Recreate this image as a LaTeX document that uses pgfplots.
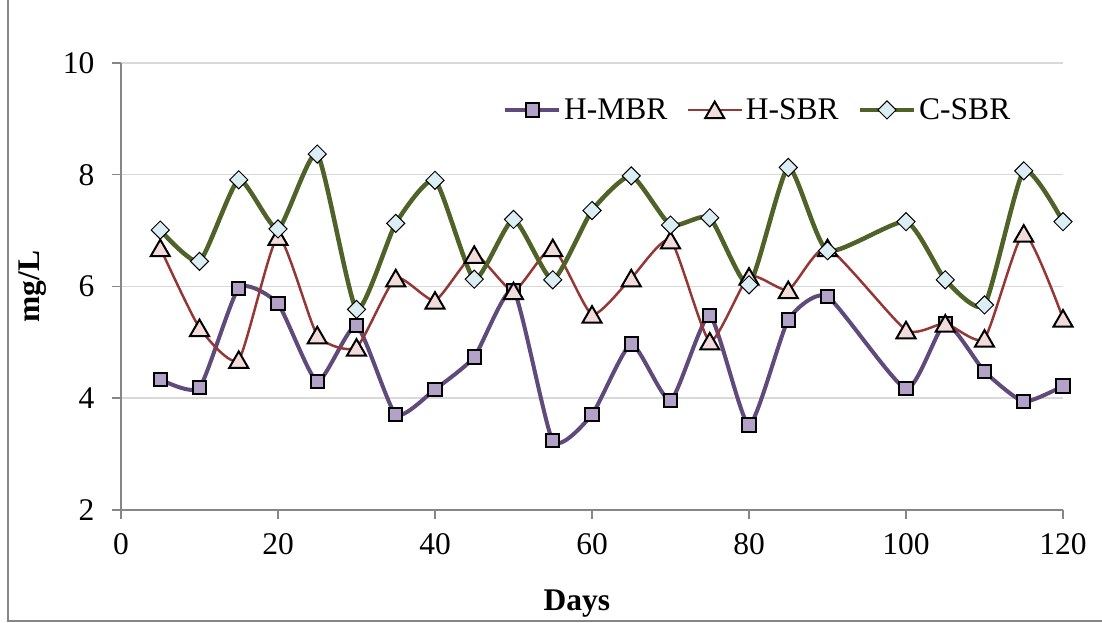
\documentclass[border=0pt]{standalone}
\usepackage{pgfplots}
\pgfplotsset{compat=1.18}
\usepackage{fontspec}
\setmainfont{Liberation Serif}
\definecolor{mbrline}{HTML}{604A7B}
\definecolor{mbrfill}{HTML}{B3A2C7}
\definecolor{sbrline}{HTML}{953735}
\definecolor{sbrfill}{HTML}{F2DCDB}
\definecolor{csbrline}{HTML}{4F6228}
\definecolor{csbrfill}{HTML}{DBEEF4}
\definecolor{axgray}{HTML}{868686}
\definecolor{gridgray}{HTML}{D9D9D9}
\newcommand{\bigfont}{\fontsize{31.5pt}{36pt}\selectfont}
\begin{document}
\begin{tikzpicture}[x=1pt,y=1pt]
\useasboundingbox (0,0) rectangle (1102,623);
\draw[axgray, line width=1.5pt] (8,2) rectangle (1115,640);
\begin{axis}[
  at={(121pt,113pt)}, anchor=south west,
  scale only axis, width=942pt, height=447pt,
  xmin=0, xmax=120, ymin=2, ymax=10,
  xtick={0,20,...,120}, ytick={2,4,...,10},
  axis x line*=bottom, axis y line*=left,
  axis line style={axgray, line width=1.5pt},
  tick style={axgray, line width=1.5pt},
  major tick length=9pt, tick align=outside,
  ymajorgrids, grid style={gridgray, line width=1.5pt},
  ticklabel style={font=\bigfont},
  xticklabel style={yshift=-11pt},
  yticklabel style={xshift=-14pt},
  /pgf/number format/assume math mode=true,
  xlabel={\textbf{Days}}, ylabel={\textbf{mg/L}},
  x label style={at={(axis description cs:0.484,0)}, anchor=base, yshift=-100pt, font=\bigfont},
  y label style={at={(axis description cs:-0.0934,0.5)}, anchor=center, font=\bigfont},
  legend columns=3,
  legend image code/.code={\draw[mark repeat=2,mark phase=2] plot coordinates {(0pt,0pt) (27pt,0pt) (54pt,0pt)};},
  legend style={at={(axis description cs:0.4055,0.895)}, anchor=west, draw=none, fill=none,
    inner sep=0pt, font=\bigfont, nodes={inner sep=3pt},
    /tikz/every even column/.append style={column sep=16pt}},
  legend cell align=left,
]
\addplot[mbrline, line width=4pt, smooth, tension=0.33, mark=square*, mark size=6.6pt,
  mark options={fill=mbrfill, draw=black, line width=2pt, solid}] coordinates {
(5,4.34) (10,4.19) (15,5.97) (20,5.69) (25,4.30) (30,5.30) (35,3.71) (40,4.16) (45,4.74)
(50,5.93) (55,3.24) (60,3.71) (65,4.97) (70,3.96) (75,5.48) (80,3.52) (85,5.40) (90,5.82)
(100,4.17) (105,5.34) (110,4.48) (115,3.94) (120,4.22)};
\addlegendentry{H-MBR}
\addplot[sbrline, line width=2.5pt, smooth, tension=0.33, mark=triangle*, mark size=11pt,
  mark options={fill=sbrfill, draw=black, line width=2pt, solid, yshift=-2.7pt}] coordinates {
(5,6.69) (10,5.26) (15,4.69) (20,6.89) (25,5.13) (30,4.91) (35,6.15) (40,5.75) (45,6.57)
(50,5.92) (55,6.69) (60,5.50) (65,6.15) (70,6.83) (75,5.02) (80,6.18) (85,5.94) (90,6.69)
(100,5.22) (105,5.34) (110,5.07) (115,6.95) (120,5.43)};
\addlegendentry{H-SBR}
\addplot[csbrline, line width=4.5pt, smooth, tension=0.33, mark=square*, mark size=6.4pt,
  mark options={rotate=45, fill=csbrfill, draw=black, line width=1pt, solid}] coordinates {
(5,7.01) (10,6.45) (15,7.91) (20,7.03) (25,8.37) (30,5.59) (35,7.13) (40,7.90) (45,6.13)
(50,7.20) (55,6.12) (60,7.36) (65,7.98) (70,7.10) (75,7.23) (80,6.03) (85,8.13) (90,6.64)
(100,7.16) (105,6.12) (110,5.67) (115,8.07) (120,7.16)};
\addlegendentry{C-SBR}
\end{axis}
\end{tikzpicture}
\end{document}
